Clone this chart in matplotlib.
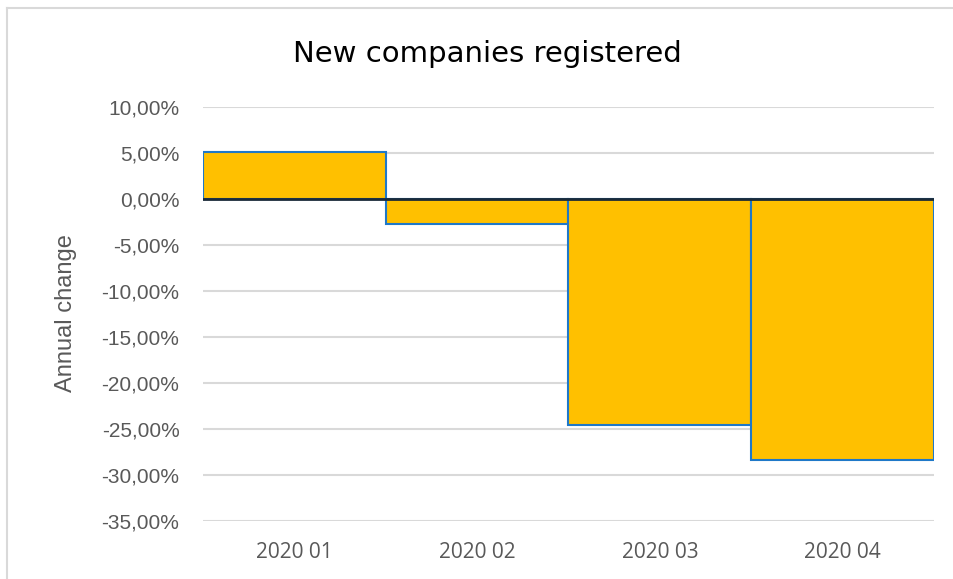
import matplotlib
matplotlib.use("Agg")
import matplotlib.pyplot as plt
from matplotlib.ticker import FuncFormatter, MultipleLocator
from matplotlib.lines import Line2D

# Annual change in new company registrations, by quarter
quarters = ["2020 01", "2020 02", "2020 03", "2020 04"]
annual_change = [5.1, -2.7, -24.6, -28.4]  # percent

fig = plt.figure(figsize=(9.54, 5.79), dpi=100)
ax = fig.add_axes([0.2128, 0.1002, 0.7662, 0.7150])

x = range(len(quarters))
ax.bar(x, annual_change, width=1.0, color="#FFC000", edgecolor="#1F78C8",
       linewidth=1.5, zorder=3)
ax.axhline(0, color="#1B2A38", linewidth=2.0, zorder=4)

ax.set_xlim(-0.5, len(quarters) - 0.5)
ax.set_ylim(-35, 10)
ax.yaxis.set_major_locator(MultipleLocator(5))
ax.yaxis.set_major_formatter(
    FuncFormatter(lambda v, _: f"{v:.2f}".replace(".", ",") + "%"))
ax.grid(axis="y", color="#D9D9D9", linewidth=1.5, zorder=0)
ax.set_axisbelow(True)

for s in ax.spines.values():
    s.set_visible(False)

ax.set_xticks(list(x))
ax.set_xticklabels(quarters, fontfamily="Open Sans", fontsize=15,
                   color="#595959")
ax.tick_params(axis="x", length=0, pad=15)
ax.tick_params(axis="y", length=0, pad=17, labelsize=15,
               labelcolor="#595959")
for lbl in ax.get_yticklabels():
    lbl.set_fontfamily("Liberation Sans")

ax.set_ylabel("Annual change", fontfamily="Liberation Sans", fontsize=17,
              color="#595959")
ax.yaxis.set_label_coords(-0.173, 0.502)

fig.text(0.511, 0.907, "New companies registered", ha="center", va="center",
         fontfamily="DejaVu Sans", fontsize=21, color="#000000")

# light frame along the top and left edges
fig.add_artist(Line2D([0.0075, 1.0], [1 - 8 / 579] * 2, color="#D9D9D9",
                      linewidth=1.5, transform=fig.transFigure))
fig.add_artist(Line2D([0.0075] * 2, [0.0, 1 - 8 / 579], color="#D9D9D9",
                      linewidth=1.5, transform=fig.transFigure))

fig.savefig("out.png", dpi=100, facecolor="white")
